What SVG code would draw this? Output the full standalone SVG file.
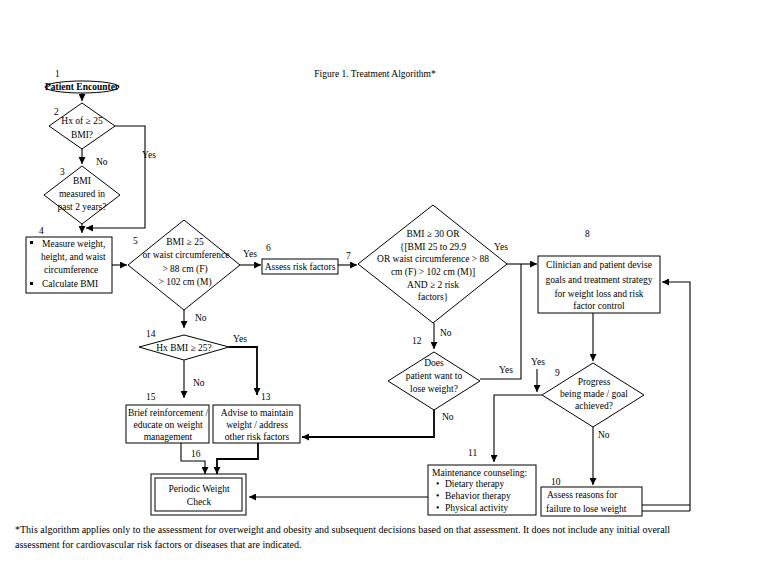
<svg xmlns="http://www.w3.org/2000/svg" width="768" height="568" viewBox="0 0 768 568">
<defs>
<marker id="ah" viewBox="0 0 10 10" refX="10" refY="5" markerWidth="7" markerHeight="7" markerUnits="userSpaceOnUse" orient="auto">
<path d="M0,0 L10,5 L0,10 z" fill="#000"/>
</marker>
<style>
text{font-family:"Liberation Serif","Times New Roman",serif;font-size:9.5px;fill:#000}
.c{text-anchor:middle}
.b{font-weight:bold}
.f{font-size:10px}
.s{fill:#fff;stroke:#000;stroke-width:1}
.l{fill:none;stroke:#000;stroke-width:1.1}
.a{fill:none;stroke:#000;stroke-width:1.1;marker-end:url(#ah)}
.t{stroke-width:1.8}
</style>
</defs>
<rect width="768" height="568" fill="#fff"/>
<text class="c" x="375" y="77">Figure 1. Treatment Algorithm*</text>

<g id="connectors">
<path class="a" d="M82,93 V101"/>
<path class="a" d="M82,149 V164"/>
<path class="a" d="M115,126 H145 V228 H86"/>
<path class="a" d="M82,224 V233"/>
<path class="a" d="M112,265 H127"/>
<path class="a" d="M240,265 H261"/>
<path class="a" d="M338,265 H357"/>
<path class="a" d="M507,264 H537"/>
<path class="l" d="M480,379 H521 V264"/>
<path class="a" d="M434,323 V349"/>
<path class="a t" d="M434,410 V437 H302"/>
<path class="a" d="M184,310 V328"/>
<path class="a t" d="M229,347 H257 V395"/>
<path class="a" d="M184,360 V398"/>
<path class="a" d="M181,443 V461 H205 V474"/>
<path class="a t" d="M258,443 V459 H217 V474"/>
<path class="a" d="M593,313 V361"/>
<path class="a" d="M542,395 H494 V462"/>
<path class="a" d="M537,369 V392"/>
<path class="a" d="M593,427 V485"/>
<path class="l" d="M642,505 H690 M642,511 H690"/>
<path class="a" d="M690,511 V282 H662"/>
<path class="a" d="M428,497 H249"/>
</g>

<g id="labels">
<text x="142" y="158">Yes</text>
<text x="96" y="165">No</text>
<text x="243" y="257">Yes</text>
<text x="195" y="321">No</text>
<text x="233" y="342">Yes</text>
<text x="193" y="386">No</text>
<text x="494" y="250">Yes</text>
<text x="440" y="336">No</text>
<text x="499" y="373">Yes</text>
<text x="442" y="420">No</text>
<text x="531" y="365">Yes</text>
<text x="598" y="438">No</text>
</g>

<g id="n1">
<ellipse class="s" cx="82" cy="87" rx="37" ry="6"/>
<text class="c b" x="82" y="90" font-size="9">Patient Encounter</text>
<text x="55" y="77">1</text>
</g>

<g id="n2">
<polygon class="s" points="82,103 115,126 82,149 49,126"/>
<text class="c" x="82" y="124">Hx of ≥ 25</text>
<text class="c" x="82" y="138">BMI?</text>
<text x="54" y="115">2</text>
</g>

<g id="n3">
<polygon class="s" points="82,166 120,195 82,224 44,195"/>
<text class="c" x="82" y="184">BMI</text>
<text class="c" x="82" y="197">measured in</text>
<text class="c" x="82" y="210">past 2 years?</text>
<text x="60" y="175">3</text>
</g>

<g id="n4">
<rect class="s" x="26" y="237" width="86" height="56"/>
<rect x="30" y="241" width="3" height="3"/>
<text x="42" y="247">Measure weight,</text>
<text x="41" y="260">height, and waist</text>
<text x="44" y="273">circumference</text>
<rect x="30" y="282" width="3" height="3"/>
<text x="42" y="287">Calculate BMI</text>
<text x="39" y="234">4</text>
</g>

<g id="n5">
<polygon class="s" points="184,220 240,265 184,310 128,265"/>
<text class="c" x="185" y="245">BMI ≥ 25</text>
<text class="c" x="186" y="258">or waist circumference</text>
<text class="c" x="185" y="272">&gt; 88 cm (F)</text>
<text class="c" x="185" y="285">&gt; 102 cm (M)</text>
<text x="133" y="244">5</text>
</g>

<g id="n6">
<rect class="s" x="262" y="259" width="76" height="15"/>
<text class="c" x="300" y="270">Assess risk factors</text>
<text x="266" y="251">6</text>
</g>

<g id="n7">
<polygon class="s" points="433,205 507,264 433,323 358,264"/>
<text class="c" x="433" y="237">BMI  ≥ 30 OR</text>
<text class="c" x="433" y="250">{[BMI 25 to 29.9</text>
<text class="c" x="433" y="262">OR waist circumference &gt; 88</text>
<text class="c" x="433" y="275">cm (F) &gt; 102 cm (M)]</text>
<text class="c" x="433" y="288">AND ≥ 2 risk</text>
<text class="c" x="433" y="300">factors}</text>
<text x="346" y="259">7</text>
</g>

<g id="n8">
<rect class="s" x="538" y="256" width="122" height="57"/>
<text class="c" x="599" y="268">Clinician and patient devise</text>
<text class="c" x="599" y="283">goals and treatment strategy</text>
<text class="c" x="599" y="297">for weight loss and risk</text>
<text class="c" x="599" y="309">factor control</text>
<text x="585" y="237">8</text>
</g>

<g id="n9">
<polygon class="s" points="593,363 644,395 593,427 542,395"/>
<text class="c" x="594" y="385">Progress</text>
<text class="c" x="594" y="397">being made / goal</text>
<text class="c" x="594" y="409">achieved?</text>
<text x="555" y="376">9</text>
</g>

<g id="n10">
<rect class="s" x="541" y="487" width="101" height="29"/>
<text x="547" y="498">Assess reasons for</text>
<text x="546" y="512">failure to lose weight</text>
<text x="551" y="485">10</text>
</g>

<g id="n11">
<rect class="s" x="428" y="465" width="108" height="50"/>
<text x="432" y="476">Maintenance counseling:</text>
<text x="436" y="487">•</text>
<text x="445" y="487">Dietary therapy</text>
<text x="436" y="499">•</text>
<text x="445" y="499">Behavior therapy</text>
<text x="436" y="511">•</text>
<text x="445" y="511">Physical activity</text>
<text x="468" y="456">11</text>
</g>

<g id="n12">
<polygon class="s" points="434,352 480,381 434,410 388,381"/>
<text class="c" x="434" y="366">Does</text>
<text class="c" x="434" y="379">patient want to</text>
<text class="c" x="434" y="392">lose weight?</text>
<text x="412" y="344">12</text>
</g>

<g id="n13">
<rect class="s" x="213" y="405" width="87" height="38"/>
<text class="c" x="257" y="416">Advise to maintain</text>
<text class="c" x="257" y="428">weight / address</text>
<text class="c" x="257" y="440">other risk factors</text>
<text x="261" y="400">13</text>
</g>

<g id="n14">
<polygon class="s" points="184,335 229,347 184,360 139,347"/>
<text class="c" x="184" y="351">Hx BMI ≥ 25?</text>
<text x="146" y="337">14</text>
</g>

<g id="n15">
<rect class="s" x="126" y="405" width="83" height="38"/>
<text class="c" x="168" y="416">Brief reinforcement /</text>
<text class="c" x="168" y="428">educate on weight</text>
<text class="c" x="168" y="440">management</text>
<text x="146" y="400">15</text>
</g>

<g id="n16">
<rect class="s" x="151" y="474" width="95" height="41"/>
<rect class="s" x="155" y="478" width="87" height="33"/>
<text class="c" x="199" y="492">Periodic Weight</text>
<text class="c" x="199" y="505">Check</text>
<text x="191" y="457">16</text>
</g>

<text class="f" x="15" y="533">*This algorithm applies only to the assessment for overweight and obesity and subsequent decisions based on that assessment. It does not include any initial overall</text>
<text class="f" x="15" y="548">assessment for cardiovascular risk factors or diseases that are indicated.</text>
</svg>
